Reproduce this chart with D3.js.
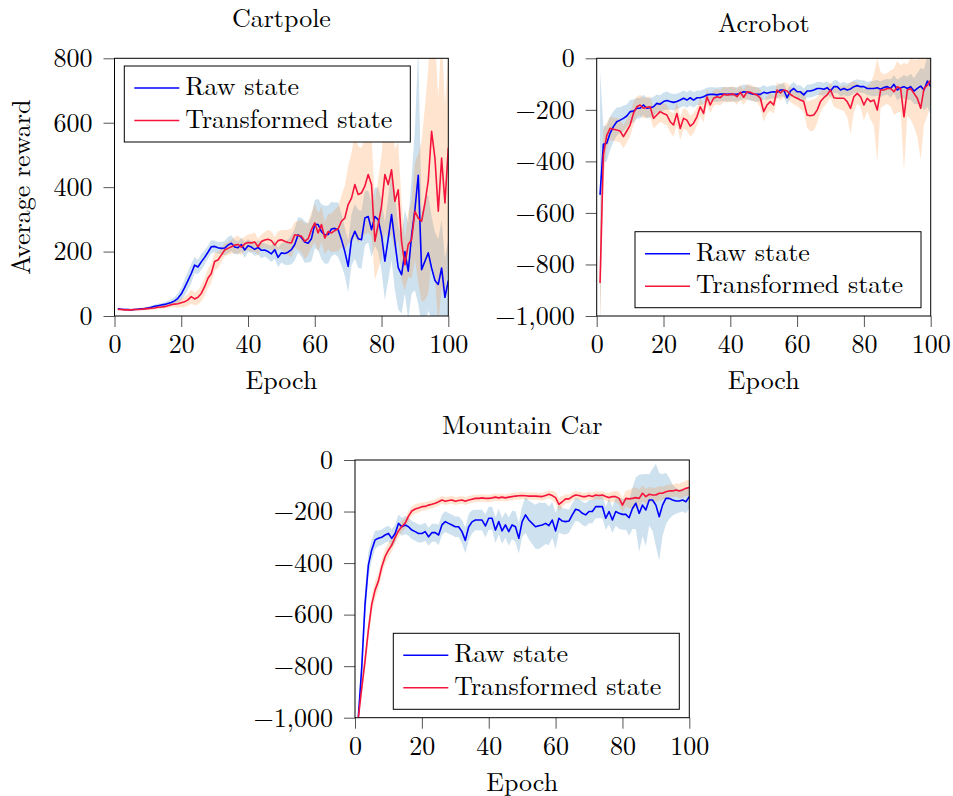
<!DOCTYPE html>
<html><head><meta charset="utf-8">
<script src="https://cdn.jsdelivr.net/npm/d3@7"></script>
<style>
body{margin:0;background:#fff;}
</style></head><body><svg id="c" width="953" height="796"></svg>
<script>
const epochs = d3.range(1, 101);
const seriesNames = ["Raw state", "Transformed state"];
const xTicks = [0, 20, 40, 60, 80, 100];
const cartpoleYTicks = [0, 200, 400, 600, 800];
const negYTicks = [-1000, -800, -600, -400, -200, 0];

const cartpoleRaw = [22,21,20,20,19,20,21,22,23,25, 27,30,32,34,36,39,42,47,55,68, 88,110,132,158,152,168,182,198,215,216, 212,210,211,220,226,214,212,222,205,218, 214,207,213,204,205,200,193,206,182,196, 194,198,206,222,252,244,230,226,240,285, 284,262,252,253,270,272,268,237,200,154, 237,263,240,237,304,309,268,309,299,250, 170,240,315,230,150,128,200,139,250,330, 437,144,170,196,149,110,98,149,58,110];
const cartpoleRawSpread = [4,3,3,3,3,3,3,4,4,4, 5,5,6,6,7,8,10,12,15,20, 25,28,30,25,22,25,22,20,20,18, 18,20,22,25,25,22,20,22,25,20, 18,20,22,25,20,22,25,28,30,30, 35,40,45,50,55,60,65,60,70,75, 80,85,90,90,85,80,85,80,75,80, 80,85,90,90,85,80,85,90,100,110, 120,130,140,150,130,120,130,150,180,250, 400,170,200,180,160,150,140,150,120,130];
const cartpoleTrans = [21,20,19,19,19,20,20,21,22,23, 24,25,27,28,29,32,35,37,38,41, 44,50,60,53,58,70,91,117,132,169, 174,189,205,210,215,220,222,214,224,228, 227,230,215,231,236,238,234,220,234,237, 232,228,227,252,250,248,232,240,268,289, 258,284,242,262,258,265,271,294,304,346, 366,408,377,382,403,439,408,232,284,341, 439,408,454,356,392,232,159,222,237,325, 304,294,350,420,573,490,325,490,351,522];
const cartpoleTransSpread = [4,3,3,3,3,3,3,4,4,4, 5,5,5,6,6,7,8,10,12,14, 16,18,22,20,22,25,28,30,30,28, 25,22,20,20,22,25,28,25,22,25, 28,30,25,22,25,30,28,25,28,30, 35,40,45,40,45,50,55,50,55,60, 60,55,50,55,60,65,70,80,100,120, 140,160,150,140,150,180,160,120,140,160, 180,170,200,160,150,120,80,100,120,150, 200,250,300,350,400,380,350,400,300,300];

const acrobotRaw = [-530,-334,-330,-291,-265,-246,-240,-233,-224,-207, -205,-194,-194,-181,-194,-192,-188,-175,-178,-168, -164,-168,-171,-168,-162,-155,-162,-153,-162,-153, -153,-149,-142,-140,-140,-142,-139,-139,-140,-139, -140,-140,-136,-130,-132,-136,-139,-140,-140,-132, -136,-132,-130,-132,-123,-123,-153,-127,-117,-130, -130,-142,-127,-127,-123,-117,-117,-120,-114,-127, -110,-110,-123,-117,-123,-119,-110,-106,-110,-110, -117,-117,-117,-114,-120,-113,-110,-117,-101,-123, -114,-110,-117,-110,-127,-117,-108,-123,-88,-110];
const acrobotRawSpread = [480,70,70,65,60,55,50,50,45,45, 45,40,40,40,40,38,38,35,35,35, 35,32,32,30,30,30,30,30,30,28, 28,28,28,28,28,28,28,28,28,28, 28,28,28,28,28,28,28,28,28,28, 25,25,25,25,25,25,28,25,25,25, 25,25,25,25,25,25,25,25,25,25, 25,25,25,25,25,25,25,25,25,25, 25,28,30,30,30,30,30,35,35,40, 40,45,45,50,50,60,70,80,100,110];
const acrobotTrans = [-872,-375,-300,-272,-275,-278,-282,-304,-282,-259, -214,-188,-181,-194,-190,-188,-233,-220,-207,-214, -220,-246,-259,-214,-272,-233,-240,-263,-252,-227, -188,-214,-149,-181,-155,-149,-153,-140,-142,-140, -139,-149,-132,-151,-130,-132,-138,-142,-155,-207, -181,-168,-181,-123,-134,-123,-127,-140,-149,-155, -162,-168,-220,-223,-220,-201,-168,-153,-142,-123, -153,-155,-155,-155,-168,-194,-149,-136,-149,-181, -155,-168,-162,-201,-123,-123,-117,-117,-130,-110, -117,-227,-123,-117,-136,-155,-194,-117,-104,-84];
const acrobotTransSpread = [200,100,50,45,45,45,45,45,45,45, 45,40,40,40,40,40,40,40,40,40, 40,40,45,45,45,40,40,40,40,35, 35,35,30,30,30,30,30,30,30,30, 30,30,30,30,30,30,30,30,35,40, 35,35,35,30,30,30,30,30,30,30, 35,40,50,60,60,50,40,35,30,30, 35,40,45,50,60,100,60,40,40,60, 50,70,100,200,70,60,60,70,90,100, 90,210,100,120,130,150,200,140,120,100];

const mountainRaw = [-996,-809,-560,-408,-349,-310,-304,-300,-291,-285, -304,-285,-246,-259,-252,-259,-272,-278,-285,-285, -278,-298,-282,-282,-291,-252,-239,-246,-252,-259, -259,-278,-312,-260,-240,-233,-233,-233,-256,-226, -226,-272,-239,-275,-252,-278,-252,-259,-304,-239, -213,-233,-246,-259,-255,-252,-246,-255,-233,-275, -226,-237,-239,-237,-213,-191,-195,-207,-213,-200, -200,-181,-181,-181,-226,-200,-233,-200,-207,-211, -211,-224,-188,-168,-207,-175,-194,-155,-155,-175, -220,-175,-149,-149,-155,-159,-159,-155,-162,-142];
const mountainRawSpread = [10,60,60,50,40,35,30,30,30,30, 35,35,35,35,35,35,35,35,35,35, 35,35,35,35,40,40,40,40,40,40, 40,45,50,50,45,40,40,40,45,45, 45,50,50,50,50,55,55,60,60,60, 70,75,80,85,90,85,80,75,70,70, 55,50,50,45,45,45,45,45,45,45, 45,45,45,45,45,50,50,55,60,60, 60,70,80,100,150,120,140,100,120,160, 170,120,100,80,60,50,45,45,45,45];
const mountainTrans = [-1000,-886,-780,-660,-560,-505,-470,-415,-375,-350, -330,-300,-275,-258,-245,-218,-198,-190,-186,-181, -180,-175,-172,-168,-162,-155,-160,-157,-155,-160, -157,-155,-160,-155,-152,-149,-149,-147,-149,-149, -147,-144,-147,-144,-147,-144,-142,-140,-139,-138, -139,-140,-140,-140,-141,-142,-138,-133,-138,-146, -172,-162,-151,-151,-142,-136,-138,-142,-142,-138, -142,-136,-138,-136,-142,-146,-142,-142,-149,-175, -149,-151,-149,-146,-149,-129,-142,-133,-136,-136, -129,-129,-123,-120,-120,-116,-120,-116,-110,-107];
const mountainTransSpread = [10,30,35,35,35,35,30,30,30,28, 25,25,25,22,20,20,18,18,18,16, 16,16,16,15,15,15,15,15,15,15, 15,15,15,15,15,14,14,14,14,14, 14,14,14,14,14,14,14,14,14,14, 14,14,14,14,14,15,15,15,18,22, 25,22,18,16,15,15,15,15,15,15, 15,15,15,15,15,18,20,22,25,28, 30,35,40,40,35,30,30,28,28,28, 28,25,25,25,25,25,28,30,30,30];

const lineColors = ["#0000ff", "#f5143c"];
const bandColors = ["#1f77b4", "#ff7f0e"];
const bandOpacity = [0.22, 0.2];
const FONT = '"Latin Modern Roman", "CMU Serif", "Liberation Serif", serif';
const fs = 26;

const panels = [
  {title:"Cartpole", left:114.5, right:448.3, top:58.3, bottom:316, domain:[0,800], yTicks:cartpoleYTicks,
   titleY:27, legend:[124.3,66], ylabel:"Average reward",
   series:[[cartpoleRaw,cartpoleRawSpread],[cartpoleTrans,cartpoleTransSpread]]},
  {title:"Acrobot", left:596.7, right:930.7, top:58.3, bottom:316, domain:[-1000,0], yTicks:negYTicks,
   titleY:32, legend:[635,231.7],
   series:[[acrobotRaw,acrobotRawSpread],[acrobotTrans,acrobotTransSpread]]},
  {title:"Mountain Car", left:355, right:689.3, top:460, bottom:717.7, domain:[-1000,0], yTicks:negYTicks,
   titleY:434, legend:[393.3,633.3],
   series:[[mountainRaw,mountainRawSpread],[mountainTrans,mountainTransSpread]]}
];

const svg = d3.select("#c");
function txt(sel) { return sel.style("font-family", FONT).style("font-size", fs + "px").attr("fill", "#000"); }

panels.forEach((p, pi) => {
  const x = d3.scaleLinear().domain([0,100]).range([p.left, p.right]);
  const y = d3.scaleLinear().domain(p.domain).range([p.bottom, p.top]);
  const g = svg.append("g");
  const clipId = "clip" + pi;
  g.append("clipPath").attr("id", clipId).append("rect")
    .attr("x", p.left).attr("y", p.top).attr("width", p.right - p.left).attr("height", p.bottom - p.top);
  const plot = g.append("g").attr("clip-path", `url(#${clipId})`);

  p.series.forEach(([vals, spr], si) => {
    const data = epochs.map((e, i) => ({e, v: vals[i], s: spr[i]}));
    plot.append("path").datum(data)
      .attr("fill", bandColors[si]).attr("fill-opacity", bandOpacity[si])
      .attr("d", d3.area().x(d => x(d.e)).y0(d => y(d.v - d.s)).y1(d => y(d.v + d.s)));
  });
  p.series.forEach(([vals], si) => {
    const data = epochs.map((e, i) => ({e, v: vals[i]}));
    plot.append("path").datum(data)
      .attr("fill", "none").attr("stroke", lineColors[si]).attr("stroke-width", 1.6)
      .attr("stroke-linejoin", "round")
      .attr("d", d3.line().x(d => x(d.e)).y(d => y(d.v)));
  });

  const xa = g.append("g").attr("transform", `translate(0,${p.bottom})`)
    .call(d3.axisBottom(x).tickValues(xTicks).tickSize(11).tickPadding(8).tickFormat(d3.format("d")));
  const ya = g.append("g").attr("transform", `translate(${p.left},0)`)
    .call(d3.axisLeft(y).tickValues(p.yTicks).tickSize(11).tickPadding(11).tickFormat(d3.format(",")));
  [xa, ya].forEach(a => {
    a.select(".domain").remove();
    a.selectAll(".tick line").attr("stroke", "#555").attr("stroke-width", 1);
    txt(a.selectAll(".tick text"));
  });

  g.append("rect").attr("x", p.left).attr("y", p.top)
    .attr("width", p.right - p.left).attr("height", p.bottom - p.top)
    .attr("fill", "none").attr("stroke", "#000").attr("stroke-width", 1);

  txt(g.append("text").attr("x", (p.left + p.right) / 2).attr("y", p.titleY)
    .attr("text-anchor", "middle")).text(p.title);
  txt(g.append("text").attr("x", (p.left + p.right) / 2).attr("y", p.bottom + 73)
    .attr("text-anchor", "middle")).text("Epoch");
  if (p.ylabel) {
    txt(g.append("text").attr("transform", `translate(30,${(p.top + p.bottom) / 2}) rotate(-90)`)
      .attr("text-anchor", "middle")).text(p.ylabel);
  }

  const [lx, ly] = p.legend;
  const lg = g.append("g").attr("transform", `translate(${lx},${ly})`);
  lg.append("rect").attr("width", 286).attr("height", 76).attr("fill", "#fff").attr("stroke", "#000").attr("stroke-width", 1);
  seriesNames.forEach((name, si) => {
    const yy = 22 + si * 32.5;
    lg.append("line").attr("x1", 10).attr("x2", 55).attr("y1", yy).attr("y2", yy)
      .attr("stroke", lineColors[si]).attr("stroke-width", 1.6);
    txt(lg.append("text").attr("x", 61).attr("y", yy + 7)).text(name);
  });
});
</script></body></html>
